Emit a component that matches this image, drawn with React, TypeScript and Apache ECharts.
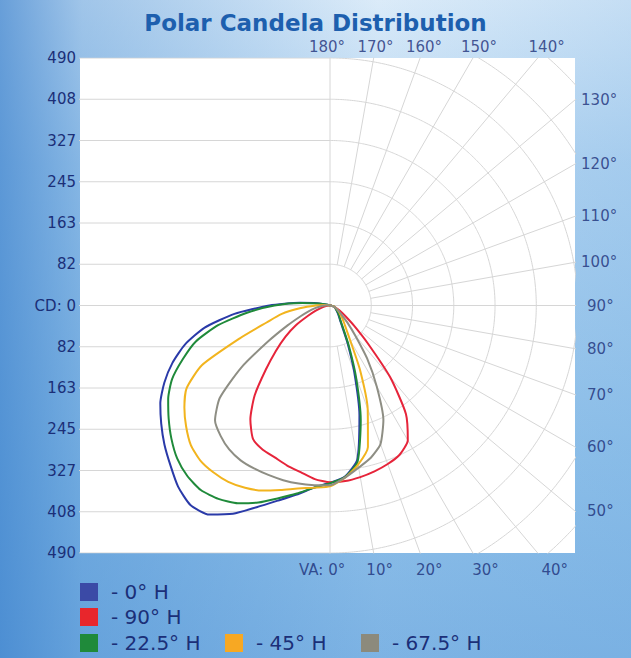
import React, { useEffect, useRef } from "react";
import * as echarts from "echarts";

// ---- data: candela values at vertical angles (0° = nadir) ----
const vAngles = [0, 5, 10, 15, 20, 25, 30, 35, 40, 45, 50, 55, 60, 65, 70, 75, 80, 85, 90, 95, 100, 105, 110];

const seriesNames = ["0° H", "90° H", "22.5° H", "45° H", "67.5° H"];
const seriesColors = ["#2a3aa8", "#e6243a", "#1f8a3a", "#f2b41e", "#8e8e84"];
const legendColors = ["#3b4aa6", "#e8262c", "#1f8a3a", "#f7a823", "#8c8a7c"];

// left half of each curve (far side plane)
const blueLeft = [351, 362, 380, 400, 425, 455, 478, 482, 468, 447, 428, 408, 388, 362, 332, 297, 252, 190, 120, 60, 25, 5, 0];
const redLeft = [350, 345, 335, 328, 320, 315, 305, 275, 232, 180, 140, 108, 78, 48, 30, 18, 10, 5, 2, 0, 0, 0, 0];
const greenLeft = [352, 362, 378, 395, 415, 432, 442, 446, 440, 428, 410, 390, 370, 345, 310, 275, 225, 165, 110, 55, 22, 5, 0];
const yellowLeft = [358, 362, 368, 378, 390, 398, 403, 403, 400, 390, 372, 352, 328, 280, 190, 130, 98, 58, 28, 12, 4, 0, 0];
const grayLeft = [356, 357, 358, 358, 357, 356, 354, 348, 337, 322, 285, 215, 140, 92, 62, 44, 30, 18, 10, 4, 0, 0, 0];

// right half of each curve (near side plane)
const blueRight = [351, 340, 310, 225, 140, 82, 48, 34, 27, 22, 18, 15, 13, 11, 9, 7, 5, 3, 1, 0, 0, 0, 0];
const redRight = [350, 349, 345, 340, 334, 326, 308, 262, 185, 105, 62, 38, 25, 16, 11, 7, 4, 2, 1, 0, 0, 0, 0];
const greenRight = [352, 341, 314, 235, 150, 88, 52, 36, 29, 24, 19, 16, 13, 11, 9, 7, 5, 3, 1, 0, 0, 0, 0];
const yellowRight = [355, 342, 320, 290, 218, 140, 80, 55, 42, 33, 26, 21, 17, 13, 10, 7, 5, 3, 1, 0, 0, 0, 0];
const grayRight = [354, 342, 326, 312, 292, 250, 185, 128, 78, 50, 32, 23, 17, 13, 9, 6, 4, 2, 1, 0, 0, 0, 0];

const leftData = [blueLeft, redLeft, greenLeft, yellowLeft, grayLeft];
const rightData = [blueRight, redRight, greenRight, yellowRight, grayRight];

// ---- axis / grid definitions ----
const cdMax = 490;
const cdStep = 490 / 6;
const ringCount = 9;
const rayAngles = [10, 20, 30, 40, 50, 60, 70, 80, 90, 100, 110, 120, 130, 140, 150, 160, 170];
const topLabelAngles = [180, 170, 160, 150, 140];
const rightLabelAngles = [130, 120, 110, 100, 90, 80, 70, 60, 50];
const bottomLabelAngles = [10, 20, 30, 40];

const FONT = "DejaVu Sans";
const NAVY = "#1b2f78";
const GRID = "#d6d6d6";

const rad = (d: number) => (d * Math.PI) / 180;

function curvePoints(left: number[], right: number[]) {
  const pts: number[][] = [];
  for (let i = vAngles.length - 1; i >= 0; i--) {
    const a = rad(vAngles[i]);
    pts.push([-left[i] * Math.sin(a), -left[i] * Math.cos(a)]);
  }
  for (let i = 1; i < vAngles.length; i++) {
    const a = rad(vAngles[i]);
    pts.push([right[i] * Math.sin(a), -right[i] * Math.cos(a)]);
  }
  return pts;
}

function gridLine(data: number[][]) {
  return {
    type: "line",
    data,
    symbol: "none",
    silent: true,
    animation: false,
    z: 1,
    lineStyle: { color: GRID, width: 1 },
    clip: true,
  };
}

export default function App() {
  const ref = useRef<HTMLDivElement>(null);

  useEffect(() => {
    document.body.style.margin = "0";
    const chart = echarts.init(ref.current!, undefined, { renderer: "svg" });

    const gridSeries: any[] = [];
    // horizontal rows on the left half
    for (let k = -6; k <= 6; k++) {
      gridSeries.push(gridLine([[-600, k * cdStep], [0, k * cdStep]]));
    }
    // vertical centre line
    gridSeries.push(gridLine([[0, -600], [0, 600]]));
    // rings (right half)
    for (let k = 1; k <= ringCount; k++) {
      const r = k * cdStep;
      const pts: number[][] = [];
      for (let a = 0; a <= 180; a += 2) pts.push([r * Math.sin(rad(a)), -r * Math.cos(rad(a))]);
      gridSeries.push({ ...gridLine(pts), smooth: true });
    }
    // rays
    rayAngles.forEach((a) => {
      const r0 = a === 90 ? 0 : cdStep;
      gridSeries.push(
        gridLine([
          [r0 * Math.sin(rad(a)), -r0 * Math.cos(rad(a))],
          [900 * Math.sin(rad(a)), -900 * Math.cos(rad(a))],
        ])
      );
    });

    const dataSeries = seriesNames.map((name, i) => ({
      type: "line",
      name,
      data: curvePoints(leftData[i], rightData[i]),
      symbol: "none",
      smooth: 0.2,
      z: 5,
      color: legendColors[i],
      lineStyle: { color: seriesColors[i], width: 2 },
      clip: false,
    }));

    // angle labels placed where the rays reach the label rows
    const labelTopY = cdMax + 21;
    const labelBottomY = -(cdMax + 33);
    const labelPts: any[] = [];
    topLabelAngles.forEach((a) => {
      const x = a === 180 ? -6 : labelTopY * Math.tan(rad(180 - a));
      labelPts.push({ value: [x, labelTopY], label: { formatter: `${a}°`, align: "center" } });
    });
    bottomLabelAngles.forEach((a) => {
      labelPts.push({
        value: [-labelBottomY * Math.tan(rad(a)) + 6, labelBottomY],
        label: { formatter: `${a}°`, align: "center" },
      });
    });
    labelPts.push({ value: [30, labelBottomY], label: { formatter: "VA: 0°", align: "right" } });
    const xEdge = 485;
    rightLabelAngles.forEach((a) => {
      const y = -xEdge / Math.tan(rad(a));
      labelPts.push({
        value: [xEdge + 12, y],
        label: { formatter: `${a}°`, align: "left", padding: [0, 0, 0, a >= 100 ? 0 : 6] },
      });
    });

    const labelSeries = {
      type: "scatter",
      data: labelPts,
      symbolSize: 0,
      silent: true,
      clip: false,
      z: 6,
      label: {
        show: true,
        position: "inside",
        verticalAlign: "middle",
        color: NAVY,
        fontFamily: FONT,
        fontSize: 15,
      },
    };

    const legendRows = [
      { name: "0° H", left: 80, top: 582 },
      { name: "90° H", left: 80, top: 607 },
      { name: "22.5° H", left: 80, top: 633 },
      { name: "45° H", left: 225, top: 633 },
      { name: "67.5° H", left: 361, top: 633 },
    ];

    chart.setOption({
      animation: false,
      backgroundColor: "transparent",
      title: {
        text: "Polar Candela Distribution",
        left: "center",
        top: 6,
        textStyle: { fontFamily: FONT, fontSize: 23, fontWeight: "bold", color: "#1d5fae" },
      },
      grid: { left: 80, top: 58, width: 495, height: 495, backgroundColor: "#ffffff", show: true, borderWidth: 0 },
      xAxis: {
        type: "value",
        min: -495,
        max: 485,
        show: false,
      },
      yAxis: {
        type: "value",
        min: -cdMax,
        max: cdMax,
        interval: cdStep,
        axisLine: { show: false },
        axisTick: { show: false },
        splitLine: { show: false },
        axisLabel: {
          color: NAVY,
          fontFamily: FONT,
          fontSize: 15,
          margin: 4,
          formatter: (v: number) => (Math.abs(v) < 1e-6 ? "CD: 0" : String(Math.round(Math.abs(v)))),
        },
      },
      legend: legendRows.map((r) => ({
        data: [r.name],
        left: r.left,
        top: r.top,
        padding: 0,
        itemWidth: 18,
        itemHeight: 18,
        icon: "rect",
        selectedMode: false,
        formatter: "- {name}",
        textStyle: { color: NAVY, fontFamily: FONT, fontSize: 20, lineHeight: 20, padding: [0, 0, 0, 8] },
      })),
      series: [...gridSeries, ...dataSeries, labelSeries],
    });

    return () => chart.dispose();
  }, []);

  return (
    <div
      style={{
        position: "fixed",
        left: 0,
        top: 0,
        width: 631,
        height: 658,
        background:
          "linear-gradient(to right, rgba(60,130,205,0.75) 0%, rgba(70,140,210,0.45) 13%, rgba(110,170,225,0.12) 60%, rgba(110,170,225,0.3) 100%), linear-gradient(to bottom, #eaf4fc 0%, #bcdaf3 25%, #93c3ea 70%, #7fb4e4 100%)",
      }}
    >
      <div ref={ref} style={{ width: 631, height: 658 }} />
    </div>
  );
}
